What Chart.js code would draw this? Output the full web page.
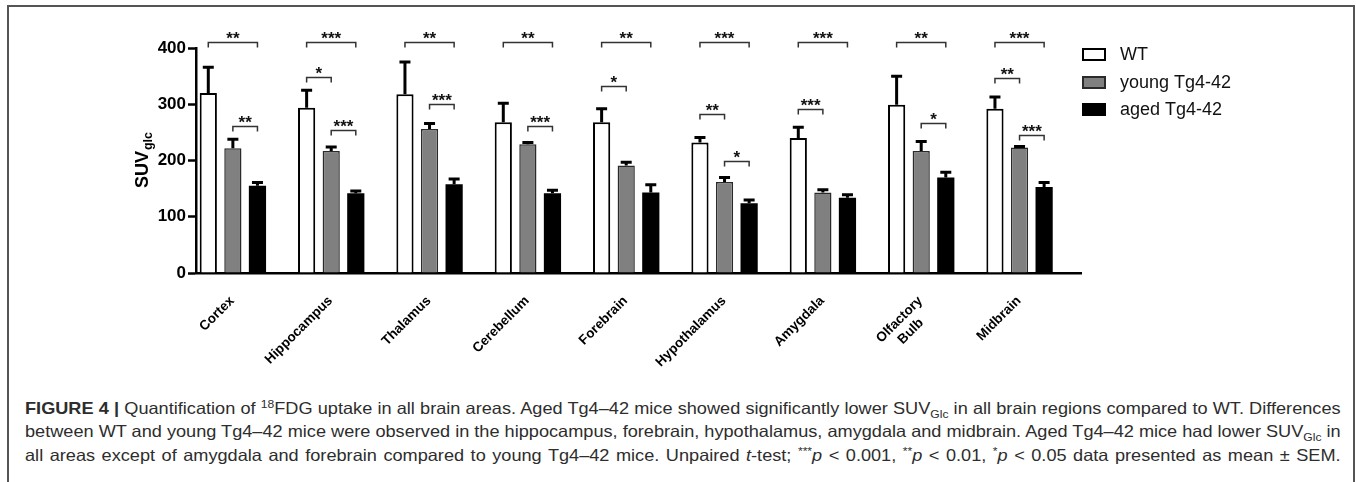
<!DOCTYPE html>
<html>
<head>
<meta charset="utf-8">
<script src="https://cdn.jsdelivr.net/npm/chart.js@4.4.1/dist/chart.umd.min.js"></script>
<style>
  html, body { margin: 0; padding: 0; background: #fff; }
  body { width: 1356px; height: 482px; position: relative; overflow: hidden; font-family: "Liberation Sans", Arial, sans-serif; }
  #frame { position: absolute; left: 7px; top: 5px; width: 1344px; height: 490px; border: 2px solid #555; border-bottom: none; }
  #wrap { position: absolute; left: 0; top: 0; width: 1356px; height: 392px; }
  #caption { position: absolute; left: 25px; top: 397px; width: 1196px; color: #2d2d2d; font-size: 16.5px;
             transform: scaleX(1.1); transform-origin: 0 0; }
  #caption div { line-height: 23.3px; white-space: nowrap; text-align: justify; text-align-last: justify; }
  #caption sub, #caption sup { font-size: 11px; line-height: 0; }
</style>
</head>
<body>
<div id="frame"></div>
<div id="wrap"><canvas id="suvChart"></canvas></div>
<div id="caption">
  <div><b>FIGURE 4 |</b> Quantification of <sup>18</sup>FDG uptake in all brain areas. Aged Tg4–42 mice showed significantly lower SUV<sub>Glc</sub> in all brain regions compared to WT. Differences</div>
  <div>between WT and young Tg4–42 mice were observed in the hippocampus, forebrain, hypothalamus, amygdala and midbrain. Aged Tg4–42 mice had lower SUV<sub>Glc</sub> in</div>
  <div>all areas except of amygdala and forebrain compared to young Tg4–42 mice. Unpaired <i>t</i>-test; <sup>***</sup><i>p</i> &lt; 0.001, <sup>**</sup><i>p</i> &lt; 0.01, <sup>*</sup><i>p</i> &lt; 0.05 data presented as mean ± SEM.</div>
</div>
<script>
// brain regions
const regions = ["Cortex", "Hippocampus", "Thalamus", "Cerebellum", "Forebrain",
  "Hypothalamus", "Amygdala", ["Olfactory", "Bulb    "], "Midbrain"];

// mean SUVglc and SEM per group
const wtMean = [320, 294, 318, 268, 268, 232, 240, 299, 292];
const wtSem = [46, 31, 57, 34, 24, 9, 19, 51, 21];
const youngMean = [222, 217, 256, 229, 191, 162, 143, 217, 223];
const youngSem = [16, 7, 10, 3, 6, 8, 5, 17, 2];
const agedMean = [155, 142, 158, 142, 143, 124, 134, 170, 153];
const agedSem = [6, 4, 9, 5, 14, 6, 5, 9, 8];

const yTicks = [0, 100, 200, 300, 400];

// WT vs aged, over every region
const topStars = ["**", "***", "**", "**", "**", "***", "***", "**", "***"];
const topLevel = 410;

// other comparisons: [region, from group, to group, level, stars]
const sideBrackets = [
  [0, 1, 2, 261, "**"],
  [1, 0, 1, 349, "*"],
  [1, 1, 2, 254, "***"],
  [2, 1, 2, 300, "***"],
  [3, 1, 2, 262, "***"],
  [4, 0, 1, 332, "*"],
  [5, 0, 1, 283, "**"],
  [5, 1, 2, 199, "*"],
  [6, 0, 1, 291, "***"],
  [7, 1, 2, 267, "*"],
  [8, 0, 1, 346, "**"],
  [8, 1, 2, 245, "***"]
];

const FONT = "'Liberation Sans', Arial, sans-serif";
const sems = [wtSem, youngSem, agedSem];
const means = [wtMean, youngMean, agedMean];

const extras = {
  id: "extras",
  afterDatasetsDraw(chart) {
    const ctx = chart.ctx;
    const y = chart.scales.y;
    const metas = [0, 1, 2].map(i => chart.getDatasetMeta(i));
    ctx.save();

    // error bars (upper half only)
    ctx.strokeStyle = "#000";
    ctx.lineWidth = 3;
    metas.forEach((meta, i) => {
      meta.data.forEach((bar, j) => {
        const top = y.getPixelForValue(means[i][j] + sems[i][j]);
        ctx.beginPath();
        ctx.moveTo(bar.x, bar.y);
        ctx.lineTo(bar.x, top);
        ctx.moveTo(bar.x - 5.5, top);
        ctx.lineTo(bar.x + 5.5, top);
        ctx.stroke();
      });
    });

    // significance brackets
    const bracket = (x1, x2, level, text) => {
      const py = Math.round(y.getPixelForValue(level)) + 0.5;
      ctx.strokeStyle = "#333";
      ctx.lineWidth = 1.5;
      ctx.beginPath();
      ctx.moveTo(x1, py + 5);
      ctx.lineTo(x1, py);
      ctx.lineTo(x2, py);
      ctx.lineTo(x2, py + 5);
      ctx.stroke();
      ctx.fillStyle = "#111";
      ctx.font = "bold 17px " + FONT;
      ctx.textAlign = "center";
      ctx.textBaseline = "alphabetic";
      ctx.fillText(text, (x1 + x2) / 2, py + 1);
    };
    topStars.forEach((s, j) => bracket(metas[0].data[j].x, metas[2].data[j].x, topLevel, s));
    sideBrackets.forEach(([j, a, b, level, s]) => bracket(metas[a].data[j].x, metas[b].data[j].x, level, s));

    // y axis title with subscript
    const area = chart.chartArea;
    ctx.translate(148, (area.top + area.bottom) / 2);
    ctx.rotate(-Math.PI / 2);
    ctx.fillStyle = "#000";
    ctx.textAlign = "left";
    ctx.font = "bold 18px " + FONT;
    const w1 = ctx.measureText("SUV").width;
    ctx.font = "bold 12.5px " + FONT;
    const w2 = ctx.measureText("glc").width;
    const start = -(w1 + w2) / 2;
    ctx.font = "bold 18px " + FONT;
    ctx.fillText("SUV", start, 0);
    ctx.font = "bold 12.5px " + FONT;
    ctx.fillText("glc", start + w1 + 1, 4);
    ctx.restore();

    // legend
    ctx.save();
    const lx = area.right + 1;
    const rows = [48, 76, 103];
    chart.data.datasets.slice(0, 3).forEach((ds, i) => {
      ctx.fillStyle = ds.backgroundColor;
      ctx.fillRect(lx, rows[i], 24, 13);
      ctx.strokeStyle = ds.borderColor;
      ctx.lineWidth = 2;
      ctx.strokeRect(lx + 1, rows[i] + 1, 22, 11);
      ctx.fillStyle = "#111";
      ctx.font = "18px " + FONT;
      ctx.textBaseline = "middle";
      ctx.fillText(ds.label, lx + 38, rows[i] + 7.5);
    });
    ctx.restore();
  }
};

new Chart(document.getElementById("suvChart"), {
  type: "bar",
  data: {
    labels: regions,
    datasets: [
      { label: "WT", data: wtMean, backgroundColor: "#ffffff", borderColor: "#000000", borderWidth: 2 },
      { label: "young Tg4-42", data: youngMean, backgroundColor: "#808080", borderColor: "#2a2a2a", borderWidth: 1.5 },
      { label: "aged Tg4-42", data: agedMean, backgroundColor: "#000000", borderColor: "#000000", borderWidth: 0 },
      // empty slot, gives the gap at the right of each group
      { label: "", data: regions.map(() => null), backgroundColor: "transparent" }
    ]
  },
  options: {
    responsive: true,
    maintainAspectRatio: false,
    animation: false,
    layout: { padding: { left: 156, right: 275, top: 48, bottom: 19 } },
    datasets: { bar: { barPercentage: 0.7, categoryPercentage: 1 } },
    plugins: { legend: { display: false }, tooltip: { enabled: false } },
    scales: {
      x: {
        grid: { display: false },
        border: { display: true, color: "#000", width: 2.5 },
        afterFit: s => { s.height = 100; },
        ticks: {
          color: "#000",
          font: { family: FONT, size: 13.5, weight: "bold" },
          maxRotation: 45, minRotation: 45,
          autoSkip: false,
          labelOffset: -13,
          padding: 12
        }
      },
      y: {
        min: 0, max: 400,
        afterFit: s => { s.width = 40; },
        afterBuildTicks: s => { s.ticks = yTicks.map(v => ({ value: v })); },
        grid: { drawOnChartArea: false, drawTicks: true, tickLength: 8, tickWidth: 2.5, tickColor: "#000" },
        border: { display: true, color: "#000", width: 2.5 },
        ticks: { color: "#000", padding: 2, font: { family: FONT, size: 17, weight: "bold" } }
      }
    }
  },
  plugins: [extras]
});
</script>
</body>
</html>
